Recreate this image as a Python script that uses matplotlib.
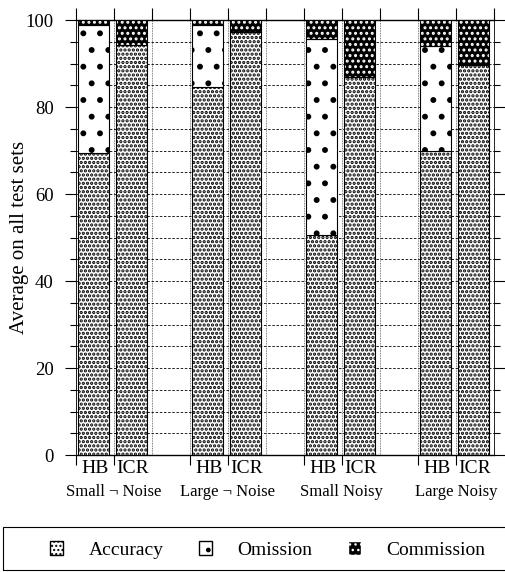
import numpy as np
import matplotlib
matplotlib.use("Agg")
import matplotlib.pyplot as plt
from matplotlib.patches import Patch, Rectangle

plt.rcParams['font.family'] = ['Liberation Serif', 'DejaVu Serif']
plt.rcParams['hatch.linewidth'] = 1.0

# data (percent, average on all test sets)
groups = ["Small \u00ac Noise", "Large \u00ac Noise", "Small Noisy", "Large Noisy"]
methods = ["HB", "ICR"]
accuracy = [69.4, 94.3, 84.5, 97.2, 50.6, 87.0, 69.9, 89.6]
omission = [29.4, 0.0, 14.3, 0.0, 45.0, 0.0, 24.1, 0.0]
commission = [100 - a - o for a, o in zip(accuracy, omission)]

# slot layout: two bars per group, one empty slot between groups
slots = []
for g in range(len(groups)):
    for m in range(len(methods)):
        slots.append(g * 3 + m)
slots = np.array(slots)
n_slots = slots.max() + 1


def hatch_lw(artists, lw):
    for a in artists:
        if hasattr(a, 'set_hatch_linewidth'):
            a.set_hatch_linewidth(lw)


fig = plt.figure(figsize=(5.05, 5.72), dpi=100)
ax = fig.add_axes([0.150, 0.2045, 0.828, 0.7605])

bar_w = 0.82
xc = slots + 0.05 + bar_w / 2
acc = np.array(accuracy)
om = np.array(omission)
com = np.array(commission)

b1 = ax.bar(xc, acc, bar_w, color='white', edgecolor='black', hatch='....',
            linewidth=0.8, zorder=3)
hatch_lw(b1, 1.6)
b2 = ax.bar(xc, om, bar_w, bottom=acc, color='white', edgecolor='black',
            hatch='.', linewidth=0.8, zorder=3)
hatch_lw(b2, 1.8)
b3 = ax.bar(xc, com, bar_w, bottom=acc + om, color='black', edgecolor='white',
            hatch='...', linewidth=0, zorder=3)
hatch_lw(b3, 1.4)
ax.bar(xc, com, bar_w, bottom=acc + om, fill=False, edgecolor='black',
       linewidth=0.8, zorder=4)

ax.set_xlim(0, n_slots)
ax.set_ylim(0, 100)

# y axis
ax.set_yticks(np.arange(0, 101, 20))
ax.set_yticks(np.arange(0, 101, 5), minor=True)
ax.tick_params(axis='y', which='major', direction='out', length=8, width=0.8,
               left=True, right=True, labelsize=13.5, pad=8)
ax.tick_params(axis='y', which='minor', direction='out', length=4.5,
               width=0.8, left=True, right=True)
ax.yaxis.grid(True, which='both', linestyle=(0, (3, 2)), color='black',
              linewidth=0.6, zorder=0)
ax.set_ylabel("Average on all test sets", fontsize=15)
ax.yaxis.set_label_coords(-0.113, 0.5)

# x axis: ticks on top at every slot boundary, bottom ticks at bar starts
ax.xaxis.remove_overlapping_locs = False
ax.set_xticks(np.arange(n_slots + 1))
ax.set_xticks(slots, minor=True)
ax.tick_params(axis='x', which='major', direction='out', length=9, width=0.8,
               top=True, bottom=False, labelbottom=False, labeltop=False)
ax.tick_params(axis='x', which='minor', direction='out', length=7, width=0.8,
               top=False, bottom=True, labelbottom=False)
ax.xaxis.grid(True, which='major', linestyle=(0, (1, 1)), color='#555555',
              linewidth=0.6, zorder=0)
ax.set_axisbelow(True)

for s in ['left', 'right']:
    ax.spines[s].set_linewidth(0.6)
for s in ['top', 'bottom']:
    ax.spines[s].set_linewidth(1.0)

trans = ax.get_xaxis_transform()
for i, s in enumerate(slots):
    ax.text(s + 0.5, -0.03, methods[i % 2], transform=trans, ha='center',
            va='center', fontsize=14)
for g, name in enumerate(groups):
    ax.text(g * 3 + 1.0, -0.085, name, transform=trans, ha='center',
            va='center', fontsize=12)

# legend in a frame along the bottom
fig.patches.append(Rectangle((0.006, 0.0035), 1.1, 0.075, transform=fig.transFigure,
                             fill=False, edgecolor='black', linewidth=0.8))
handles = [
    Patch(facecolor='white', edgecolor='black', hatch='....', label='Accuracy'),
    Patch(facecolor='white', edgecolor='black', hatch='.', label='Omission'),
    Patch(facecolor='black', edgecolor='white', hatch='...', label='Commission'),
]
leg = fig.legend(handles=handles, loc='center', bbox_to_anchor=(0.53, 0.038),
                 ncol=3, frameon=False, fontsize=14, handlelength=0.7,
                 handleheight=0.7, handletextpad=1.3, columnspacing=1.8)

fig.savefig("out.png", dpi=100)
